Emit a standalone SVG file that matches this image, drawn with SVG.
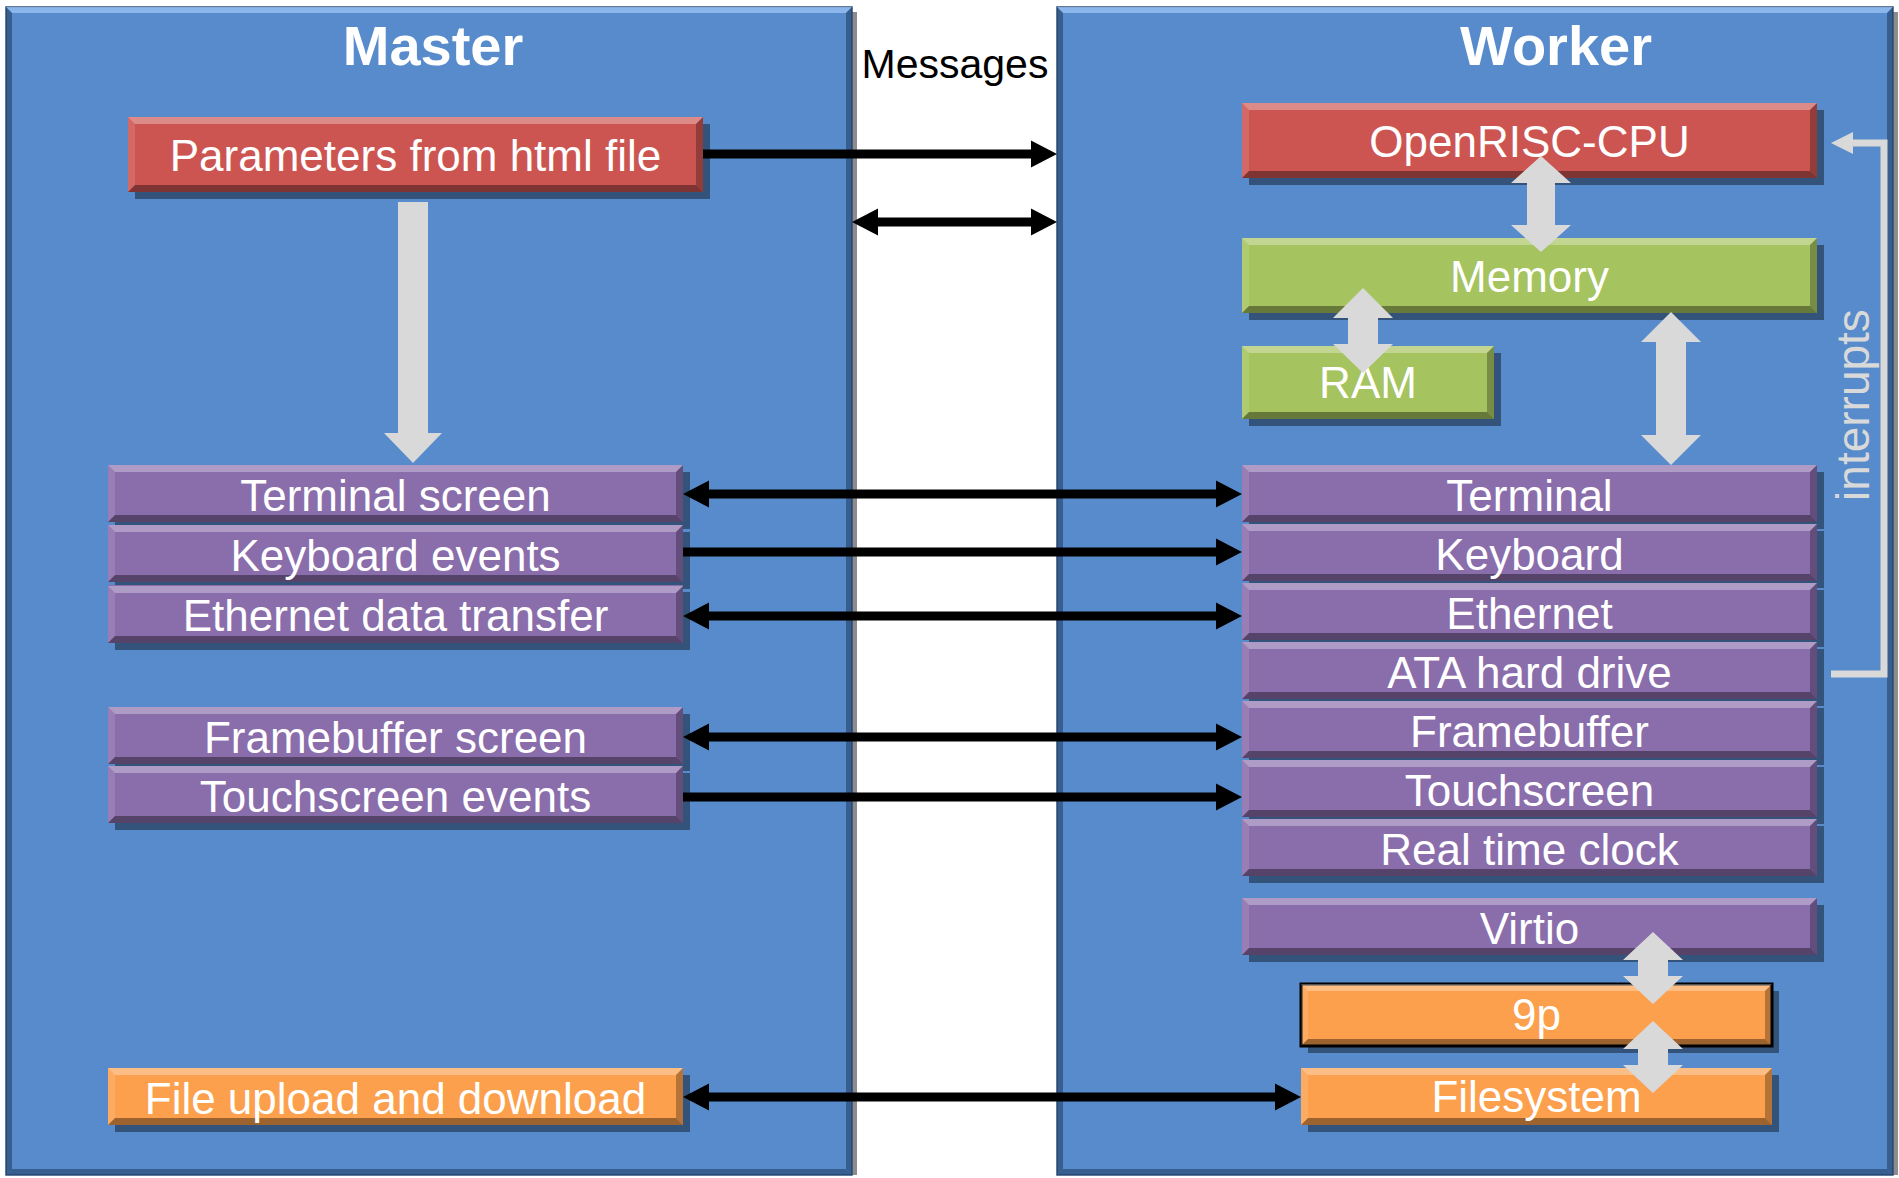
<svg xmlns="http://www.w3.org/2000/svg" xmlns:xlink="http://www.w3.org/1999/xlink" width="1899" height="1178" viewBox="0 0 1899 1178">
<style>
.panel{fill:#578bcb;stroke:#2f4f7a;stroke-width:1.5}
.pshadow{fill:#8c8c8c}
.plight{fill:#9cc4f5;opacity:.75}
.pdark{fill:#1f3a60;opacity:.55}
.title{font-family:"Liberation Sans",Arial,sans-serif;font-weight:bold;font-size:56px;fill:#fff;text-anchor:middle}
.msg{font-family:"Liberation Sans",Arial,sans-serif;font-size:41px;fill:#000;text-anchor:middle}
.lbl{font-family:"Liberation Sans",Arial,sans-serif;font-size:44px;fill:#fff;text-anchor:middle}
.intr{font-family:"Liberation Sans",Arial,sans-serif;font-size:46px;fill:#d9d9d9;text-anchor:middle}
.sh{fill:#000;opacity:.4}
.red{fill:#cc5552}
.green{fill:#a5c35f}
.purple{fill:#8a6dab}
.orange{fill:#fca04d}
.bt{fill:#fff;opacity:.32}
.bl{fill:#fff;opacity:.12}
.br{fill:#000;opacity:.28}
.bb{fill:#000;opacity:.38}
.grey{fill:#d9d9d9}
.blk{stroke:#000;stroke-width:9;fill:none}
.intline{stroke:#d9d9d9;stroke-width:7;fill:none}
</style>
<defs>
<marker id="ah" markerUnits="userSpaceOnUse" markerWidth="28" markerHeight="28" refX="16" refY="13.5" orient="auto-start-reverse" overflow="visible">
<path d="M0,0 L26,13.5 L0,27 Z" fill="#000"/>
</marker>
<symbol id="bvA" overflow="visible">
<polygon class="bt" points="0,0 575,0 568,7 7,7"/>
<polygon class="bl" points="0,0 7,7 7,68 0,75"/>
<polygon class="br" points="575,0 575,75 568,68 568,7"/>
<polygon class="bb" points="0,75 7,68 568,68 575,75"/>
</symbol>
<symbol id="bvB" overflow="visible">
<polygon class="bt" points="0,0 575,0 568,7 7,7"/>
<polygon class="bl" points="0,0 7,7 7,50 0,57"/>
<polygon class="br" points="575,0 575,57 568,50 568,7"/>
<polygon class="bb" points="0,57 7,50 568,50 575,57"/>
</symbol>
<symbol id="bvC" overflow="visible">
<polygon class="bt" points="0,0 252,0 245,7 7,7"/>
<polygon class="bl" points="0,0 7,7 7,66 0,73"/>
<polygon class="br" points="252,0 252,73 245,66 245,7"/>
<polygon class="bb" points="0,73 7,66 245,66 252,73"/>
</symbol>
<symbol id="bvD" overflow="visible">
<polygon class="bt" points="0,0 471,0 464,7 7,7"/>
<polygon class="bl" points="0,0 7,7 7,55 0,62"/>
<polygon class="br" points="471,0 471,62 464,55 464,7"/>
<polygon class="bb" points="0,62 7,55 464,55 471,62"/>
</symbol>
<symbol id="bvE" overflow="visible">
<polygon class="bt" points="0,0 471,0 464,7 7,7"/>
<polygon class="bl" points="0,0 7,7 7,50 0,57"/>
<polygon class="br" points="471,0 471,57 464,50 464,7"/>
<polygon class="bb" points="0,57 7,50 464,50 471,57"/>
</symbol>
</defs>

<rect x="0" y="0" width="1899" height="1178" fill="#fff"/>

<g id="master">
<rect class="pshadow" x="852" y="12" width="5" height="1163"/>
<rect class="panel" x="6" y="7" width="846" height="1168"/>
<polygon class="plight" points="6,7 852,7 846,13 12,13"/>
<polygon class="pdark" points="6,7 12,13 12,1169 6,1175"/>
<polygon class="pdark" points="852,7 852,1175 846,1169 846,13"/>
<polygon class="pdark" points="6,1175 12,1169 846,1169 852,1175"/>
<text class="title" x="433" y="65">Master</text>
</g>

<g id="worker">
<rect class="pshadow" x="1893" y="12" width="5" height="1163"/>
<rect class="panel" x="1057" y="7" width="836" height="1168"/>
<polygon class="plight" points="1057,7 1893,7 1887,13 1063,13"/>
<polygon class="pdark" points="1057,7 1063,13 1063,1169 1057,1175"/>
<polygon class="pdark" points="1893,7 1893,1175 1887,1169 1887,13"/>
<polygon class="pdark" points="1057,1175 1063,1169 1887,1169 1893,1175"/>
<text class="title" x="1556" y="65">Worker</text>
</g>

<text id="messages" class="msg" x="955" y="78">Messages</text>

<g id="params">
<rect class="sh" x="135" y="124" width="575" height="75"/>
<rect class="red" x="128" y="117" width="575" height="75"/>
<use xlink:href="#bvA" x="128" y="117"/>
<text class="lbl" x="415.5" y="171">Parameters from html file</text>
</g>
<g id="terminal-screen">
<rect class="sh" x="115" y="472" width="575" height="57"/>
<rect class="purple" x="108" y="465" width="575" height="57"/>
<use xlink:href="#bvB" x="108" y="465"/>
<text class="lbl" x="395.5" y="511">Terminal screen</text>
</g>
<g id="keyboard-events">
<rect class="sh" x="115" y="532" width="575" height="57"/>
<rect class="purple" x="108" y="525" width="575" height="57"/>
<use xlink:href="#bvB" x="108" y="525"/>
<text class="lbl" x="395.5" y="571">Keyboard events</text>
</g>
<g id="ethernet-transfer">
<rect class="sh" x="115" y="592" width="575" height="58"/>
<rect class="purple" x="108" y="585" width="575" height="58"/>
<use xlink:href="#bvB" x="108" y="586"/>
<text class="lbl" x="395.5" y="631">Ethernet data transfer</text>
</g>
<g id="framebuffer-screen">
<rect class="sh" x="115" y="714" width="575" height="57"/>
<rect class="purple" x="108" y="707" width="575" height="57"/>
<use xlink:href="#bvB" x="108" y="707"/>
<text class="lbl" x="395.5" y="753">Framebuffer screen</text>
</g>
<g id="touchscreen-events">
<rect class="sh" x="115" y="773" width="575" height="57"/>
<rect class="purple" x="108" y="766" width="575" height="57"/>
<use xlink:href="#bvB" x="108" y="766"/>
<text class="lbl" x="395.5" y="812">Touchscreen events</text>
</g>
<g id="file-updown">
<rect class="sh" x="115" y="1075" width="575" height="57"/>
<rect class="orange" x="108" y="1068" width="575" height="57"/>
<use xlink:href="#bvB" x="108" y="1068"/>
<text class="lbl" x="395.5" y="1114">File upload and download</text>
</g>

<g id="cpu">
<rect class="sh" x="1249" y="110" width="575" height="75"/>
<rect class="red" x="1242" y="103" width="575" height="75"/>
<use xlink:href="#bvA" x="1242" y="103"/>
<text class="lbl" x="1529.5" y="157">OpenRISC-CPU</text>
</g>
<g id="memory">
<rect class="sh" x="1249" y="245" width="575" height="75"/>
<rect class="green" x="1242" y="238" width="575" height="75"/>
<use xlink:href="#bvA" x="1242" y="238"/>
<text class="lbl" x="1529.5" y="292">Memory</text>
</g>
<g id="ram">
<rect class="sh" x="1249" y="353" width="252" height="73"/>
<rect class="green" x="1242" y="346" width="252" height="73"/>
<use xlink:href="#bvC" x="1242" y="346"/>
<text class="lbl" x="1368" y="398">RAM</text>
</g>
<g id="terminal">
<rect class="sh" x="1249" y="472" width="575" height="57"/>
<rect class="purple" x="1242" y="465" width="575" height="57"/>
<use xlink:href="#bvB" x="1242" y="465"/>
<text class="lbl" x="1529.5" y="511">Terminal</text>
</g>
<g id="keyboard">
<rect class="sh" x="1249" y="531" width="575" height="57"/>
<rect class="purple" x="1242" y="524" width="575" height="57"/>
<use xlink:href="#bvB" x="1242" y="524"/>
<text class="lbl" x="1529.5" y="570">Keyboard</text>
</g>
<g id="ethernet">
<rect class="sh" x="1249" y="590" width="575" height="57"/>
<rect class="purple" x="1242" y="583" width="575" height="57"/>
<use xlink:href="#bvB" x="1242" y="583"/>
<text class="lbl" x="1529.5" y="629">Ethernet</text>
</g>
<g id="ata">
<rect class="sh" x="1249" y="649" width="575" height="57"/>
<rect class="purple" x="1242" y="642" width="575" height="57"/>
<use xlink:href="#bvB" x="1242" y="642"/>
<text class="lbl" x="1529.5" y="688">ATA hard drive</text>
</g>
<g id="framebuffer">
<rect class="sh" x="1249" y="708" width="575" height="57"/>
<rect class="purple" x="1242" y="701" width="575" height="57"/>
<use xlink:href="#bvB" x="1242" y="701"/>
<text class="lbl" x="1529.5" y="747">Framebuffer</text>
</g>
<g id="touchscreen">
<rect class="sh" x="1249" y="767" width="575" height="57"/>
<rect class="purple" x="1242" y="760" width="575" height="57"/>
<use xlink:href="#bvB" x="1242" y="760"/>
<text class="lbl" x="1529.5" y="806">Touchscreen</text>
</g>
<g id="rtc">
<rect class="sh" x="1249" y="826" width="575" height="57"/>
<rect class="purple" x="1242" y="819" width="575" height="57"/>
<use xlink:href="#bvB" x="1242" y="819"/>
<text class="lbl" x="1529.5" y="865">Real time clock</text>
</g>
<g id="virtio">
<rect class="sh" x="1249" y="905" width="575" height="57"/>
<rect class="purple" x="1242" y="898" width="575" height="57"/>
<use xlink:href="#bvB" x="1242" y="898"/>
<text class="lbl" x="1529.5" y="944">Virtio</text>
</g>
<g id="ninep">
<rect class="sh" x="1308" y="991" width="471" height="62"/>
<rect class="orange" x="1301" y="984" width="471" height="62" stroke="#000" stroke-width="3"/>
<use xlink:href="#bvD" x="1301" y="984"/>
<text class="lbl" x="1536.5" y="1030">9p</text>
</g>
<g id="filesystem">
<rect class="sh" x="1308" y="1075" width="471" height="57"/>
<rect class="orange" x="1301" y="1068" width="471" height="57"/>
<use xlink:href="#bvE" x="1301" y="1068"/>
<text class="lbl" x="1536.5" y="1112">Filesystem</text>
</g>

<g id="connectors">
<path class="grey" d="M398,202 H428 V433 H442 L413,463 L384,433 H398 Z"/>
<path class="grey" d="M1541,156 L1571,183 L1555,183 L1555,225 L1571,225 L1541,252 L1511,225 L1527,225 L1527,183 L1511,183 Z"/>
<path class="grey" d="M1363,288 L1393,318 L1378,318 L1378,344 L1393,344 L1363,373 L1333,344 L1348,344 L1348,318 L1333,318 Z"/>
<path class="grey" d="M1671,312 L1701,342 L1686,342 L1686,435 L1701,435 L1671,465 L1641,435 L1656,435 L1656,342 L1641,342 Z"/>
<path class="grey" d="M1653,932 L1683,960 L1668,960 L1668,976 L1683,976 L1653,1004 L1623,976 L1638,976 L1638,960 L1623,960 Z"/>
<path class="grey" d="M1653,1021 L1683,1049 L1668,1049 L1668,1065 L1683,1065 L1653,1093 L1623,1065 L1638,1065 L1638,1049 L1623,1049 Z"/>

<path class="intline" d="M1831,674 H1884 V143 H1850"/>
<polygon class="grey" points="1831,143 1853,132 1853,154"/>
<text class="intr" transform="translate(1869,405) rotate(-90)">interrupts</text>

<path class="blk" d="M703,154 H1047" marker-end="url(#ah)"/>
<path class="blk" d="M862,222 H1047" marker-start="url(#ah)" marker-end="url(#ah)"/>
<path class="blk" d="M693,494 H1232" marker-start="url(#ah)" marker-end="url(#ah)"/>
<path class="blk" d="M683,552 H1232" marker-end="url(#ah)"/>
<path class="blk" d="M693,616 H1232" marker-start="url(#ah)" marker-end="url(#ah)"/>
<path class="blk" d="M693,737 H1232" marker-start="url(#ah)" marker-end="url(#ah)"/>
<path class="blk" d="M683,797 H1232" marker-end="url(#ah)"/>
<path class="blk" d="M693,1097 H1291" marker-start="url(#ah)" marker-end="url(#ah)"/>
</g>
</svg>
